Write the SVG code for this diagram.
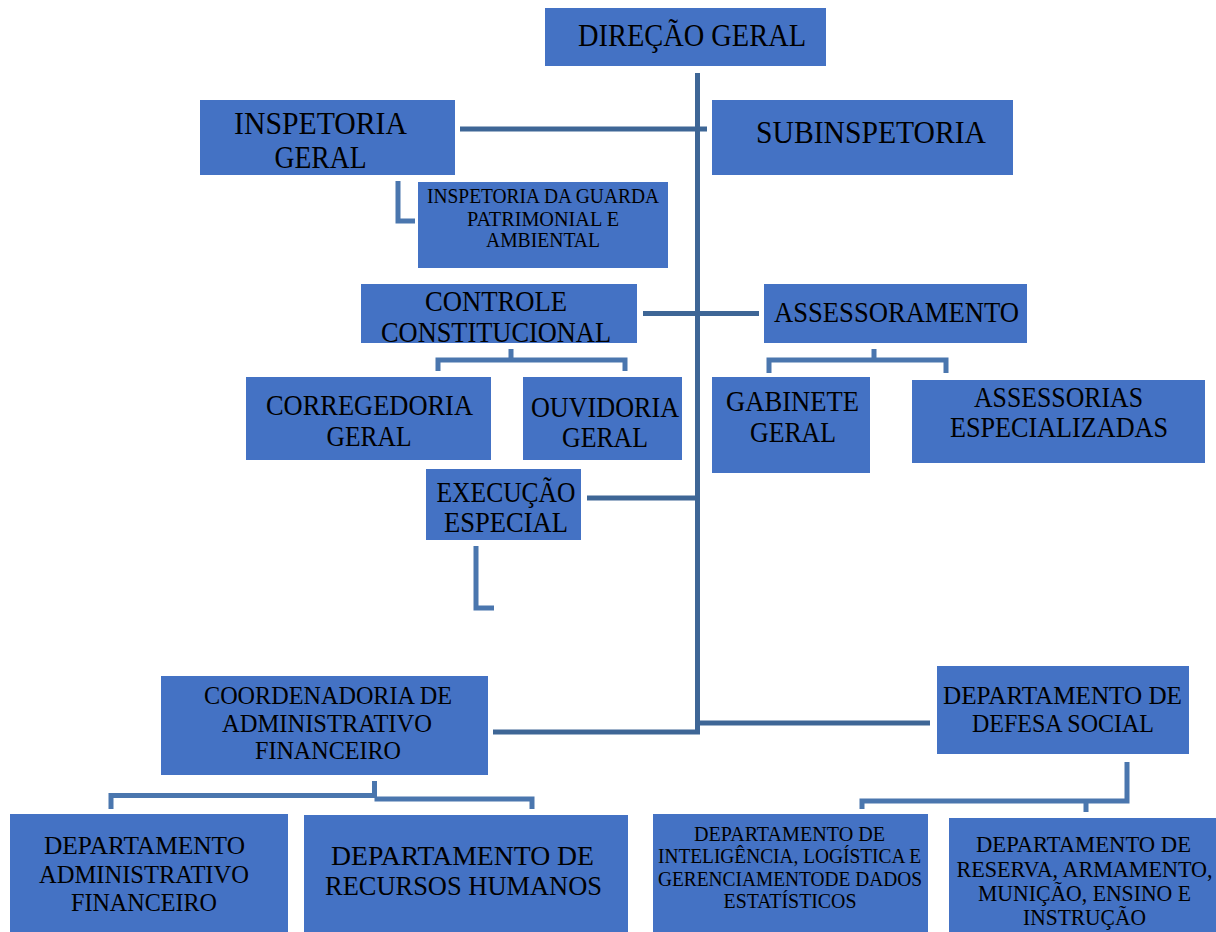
<svg xmlns="http://www.w3.org/2000/svg" width="1216" height="932" viewBox="0 0 1216 932">
<style>
.box{fill:#4472C4;}
text{font-family:"Liberation Serif","Times New Roman",serif;fill:#000;text-anchor:middle;}
.main{fill:none;stroke:#3E6696;stroke-width:5;}
.br{fill:none;stroke:#4A76AE;stroke-width:5;}
</style>
<rect width="1216" height="932" fill="#fff"/>
<g id="connectors">
<path class="main" d="M697.5,73 V732 H493"/>
<path class="main" d="M460,129 H707"/>
<path class="main" d="M643,313.5 H759"/>
<path class="main" d="M587,498 H697"/>
<path class="main" d="M697,723 H930"/>
<path class="br" d="M398,181 V221 H415"/>
<path class="br" d="M511,349 V360 M438,371 V360 H625 V371"/>
<path class="br" d="M874,349 V360 M769,373 V360 H946 V373"/>
<path class="br" d="M476,546 V608 H494"/>
<path class="br" d="M374.5,781 V798 M111,809 V795.5 H374.5 M374.5,799 H532 V809"/>
<path class="br" d="M1127,762 V801 H862 V809 M1086,800 V812"/>
</g>
<g id="direcao"><rect class="box" x="545" y="8" width="281" height="58"/>
<text x="692" y="46" font-size="32" textLength="228" lengthAdjust="spacingAndGlyphs">DIREÇÃO GERAL</text></g>
<g id="inspetoria"><rect class="box" x="200" y="100" width="255" height="75"/>
<text x="320.5" y="134" font-size="31" textLength="173" lengthAdjust="spacingAndGlyphs">INSPETORIA</text>
<text x="320.5" y="168" font-size="31" textLength="92" lengthAdjust="spacingAndGlyphs">GERAL</text></g>
<g id="subinspetoria"><rect class="box" x="712" y="100" width="301" height="75"/>
<text x="871" y="143" font-size="32" textLength="230" lengthAdjust="spacingAndGlyphs">SUBINSPETORIA</text></g>
<g id="guarda"><rect class="box" x="418" y="182" width="250" height="86"/>
<text x="543" y="203" font-size="20.5" textLength="232" lengthAdjust="spacingAndGlyphs">INSPETORIA DA GUARDA</text>
<text x="543" y="226" font-size="20.5" textLength="152" lengthAdjust="spacingAndGlyphs">PATRIMONIAL E</text>
<text x="543" y="247" font-size="20.5" textLength="114" lengthAdjust="spacingAndGlyphs">AMBIENTAL</text></g>
<g id="controle"><rect class="box" x="361" y="284" width="276" height="59"/>
<text x="496" y="311" font-size="29" textLength="142" lengthAdjust="spacingAndGlyphs">CONTROLE</text>
<text x="496" y="342" font-size="29" textLength="230" lengthAdjust="spacingAndGlyphs">CONSTITUCIONAL</text></g>
<g id="assessoramento"><rect class="box" x="764" y="284" width="263" height="59"/>
<text x="896.5" y="322" font-size="29" textLength="245" lengthAdjust="spacingAndGlyphs">ASSESSORAMENTO</text></g>
<g id="corregedoria"><rect class="box" x="246" y="377" width="245" height="83"/>
<text x="369.5" y="415" font-size="30" textLength="207" lengthAdjust="spacingAndGlyphs">CORREGEDORIA</text>
<text x="369" y="446" font-size="30" textLength="85" lengthAdjust="spacingAndGlyphs">GERAL</text></g>
<g id="ouvidoria"><rect class="box" x="523" y="377" width="159" height="83"/>
<text x="605" y="417" font-size="30" textLength="148" lengthAdjust="spacingAndGlyphs">OUVIDORIA</text>
<text x="605" y="447" font-size="30" textLength="86" lengthAdjust="spacingAndGlyphs">GERAL</text></g>
<g id="gabinete"><rect class="box" x="712" y="377" width="158" height="96"/>
<text x="792.5" y="411" font-size="29" textLength="133" lengthAdjust="spacingAndGlyphs">GABINETE</text>
<text x="793" y="442" font-size="29" textLength="86" lengthAdjust="spacingAndGlyphs">GERAL</text></g>
<g id="assessorias"><rect class="box" x="912" y="380" width="293" height="83"/>
<text x="1058.5" y="407" font-size="29" textLength="169" lengthAdjust="spacingAndGlyphs">ASSESSORIAS</text>
<text x="1059" y="437" font-size="29" textLength="218" lengthAdjust="spacingAndGlyphs">ESPECIALIZADAS</text></g>
<g id="execucao"><rect class="box" x="426" y="469" width="155" height="71"/>
<text x="506" y="502" font-size="29" textLength="139" lengthAdjust="spacingAndGlyphs">EXECUÇÃO</text>
<text x="506" y="532" font-size="29" textLength="124" lengthAdjust="spacingAndGlyphs">ESPECIAL</text></g>
<g id="coordenadoria"><rect class="box" x="161" y="676" width="327" height="99"/>
<text x="328" y="704" font-size="26" textLength="248" lengthAdjust="spacingAndGlyphs">COORDENADORIA DE</text>
<text x="327" y="732" font-size="26" textLength="210" lengthAdjust="spacingAndGlyphs">ADMINISTRATIVO</text>
<text x="328" y="759" font-size="26" textLength="146" lengthAdjust="spacingAndGlyphs">FINANCEIRO</text></g>
<g id="defesa"><rect class="box" x="937" y="666" width="252" height="88"/>
<text x="1062.5" y="704" font-size="26" textLength="239" lengthAdjust="spacingAndGlyphs">DEPARTAMENTO DE</text>
<text x="1063" y="732" font-size="26" textLength="182" lengthAdjust="spacingAndGlyphs">DEFESA SOCIAL</text></g>
<g id="dep-adm"><rect class="box" x="10" y="814" width="278" height="118"/>
<text x="144.5" y="854" font-size="26" textLength="201" lengthAdjust="spacingAndGlyphs">DEPARTAMENTO</text>
<text x="144" y="883" font-size="26" textLength="210" lengthAdjust="spacingAndGlyphs">ADMINISTRATIVO</text>
<text x="144" y="911" font-size="26" textLength="146" lengthAdjust="spacingAndGlyphs">FINANCEIRO</text></g>
<g id="dep-rh"><rect class="box" x="304" y="815" width="324" height="117"/>
<text x="462.5" y="865" font-size="28" textLength="263" lengthAdjust="spacingAndGlyphs">DEPARTAMENTO DE</text>
<text x="463.5" y="895" font-size="28" textLength="277" lengthAdjust="spacingAndGlyphs">RECURSOS HUMANOS</text></g>
<g id="dep-intel"><rect class="box" x="653" y="814" width="275" height="118"/>
<text x="789.5" y="841" font-size="21.5" textLength="191" lengthAdjust="spacingAndGlyphs">DEPARTAMENTO DE</text>
<text x="789.5" y="863" font-size="21.5" textLength="263" lengthAdjust="spacingAndGlyphs">INTELIGÊNCIA, LOGÍSTICA E</text>
<text x="790" y="886" font-size="21.5" textLength="264" lengthAdjust="spacingAndGlyphs">GERENCIAMENTODE DADOS</text>
<text x="790" y="908" font-size="21.5" textLength="133" lengthAdjust="spacingAndGlyphs">ESTATÍSTICOS</text></g>
<g id="dep-reserva"><rect class="box" x="949" y="818" width="267" height="114"/>
<text x="1083.5" y="852" font-size="22.5" textLength="215" lengthAdjust="spacingAndGlyphs">DEPARTAMENTO DE</text>
<text x="1084.5" y="877" font-size="22.5" textLength="256" lengthAdjust="spacingAndGlyphs">RESERVA, ARMAMENTO,</text>
<text x="1084.5" y="901" font-size="22.5" textLength="213" lengthAdjust="spacingAndGlyphs">MUNIÇÃO, ENSINO E</text>
<text x="1084.5" y="925" font-size="22.5" textLength="123" lengthAdjust="spacingAndGlyphs">INSTRUÇÃO</text></g>
</svg>
